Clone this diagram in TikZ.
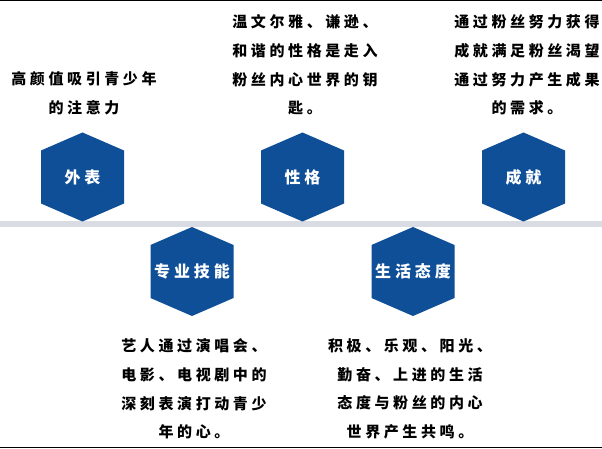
\documentclass[tikz,border=0pt]{standalone}
\usepackage{fontspec}
\newfontfamily\cjk[LetterSpace=24]{Noto Sans CJK SC}
\definecolor{hexblue}{RGB}{15,79,151}
\definecolor{bandgray}{RGB}{218,220,228}
\tikzset{
  hexfill/.style={fill=hexblue},
  hexlabel/.style={text=white, font=\cjk\bfseries\fontsize{16}{18}\selectfont, inner sep=0pt},
  desc/.style={text=black, align=center, inner sep=0pt, font=\cjk\bfseries\fontsize{15}{28.7}\selectfont},
}
\newcommand\myhex[4]{%
  \begin{scope}[shift={(#2,#3)}]
    \fill[hexfill] (-41.5,-26.5) -- (0,-44.5) -- (41.5,-26.5) -- (41.5,26.5) -- (0,44.5) -- (-41.5,26.5) -- cycle;
  \end{scope}
  \node[hexlabel] (#1) at (#2,#3) {#4};}
\begin{document}
\begin{tikzpicture}[x=1pt,y=-1pt]
\useasboundingbox (0,0) rectangle (602,449);
\fill[white] (0,0) rectangle (602,449);
% top and bottom rules
\draw[black, line width=1.2pt] (0,0.6) -- (602,0.6);
\draw[black, line width=1.5pt] (0,447.5) -- (602,447.5);
% gray band
\fill[bandgray] (0,221) rectangle (602,227);
% hexagons
\myhex{waibiao}{82.5}{177}{外表}
\myhex{xingge}{302.5}{177}{性格}
\myhex{chengjiu}{523.5}{177}{成就}
\myhex{zhuanye}{192}{271.5}{专业技能}
\myhex{shenghuo}{413}{271.5}{生活态度}
% descriptions
\node[desc] (t1) at (84,93) {高颜值吸引青少年\\的注意力};
\node[desc] (t2) at (305,65) {温文尔雅、谦逊、\\和谐的性格是走入\\粉丝内心世界的钥\\匙。};
\node[desc] (t3) at (527,65) {通过粉丝努力获得\\成就满足粉丝渴望\\通过努力产生成果\\的需求。};
\node[desc] (t4) at (194,389) {艺人通过演唱会、\\电影、电视剧中的\\深刻表演打动青少\\年的心。};
\node[desc] (t5) at (410,389) {积极、乐观、阳光、\\勤奋、上进的生活\\态度与粉丝的内心\\世界产生共鸣。};
\end{tikzpicture}
\end{document}
